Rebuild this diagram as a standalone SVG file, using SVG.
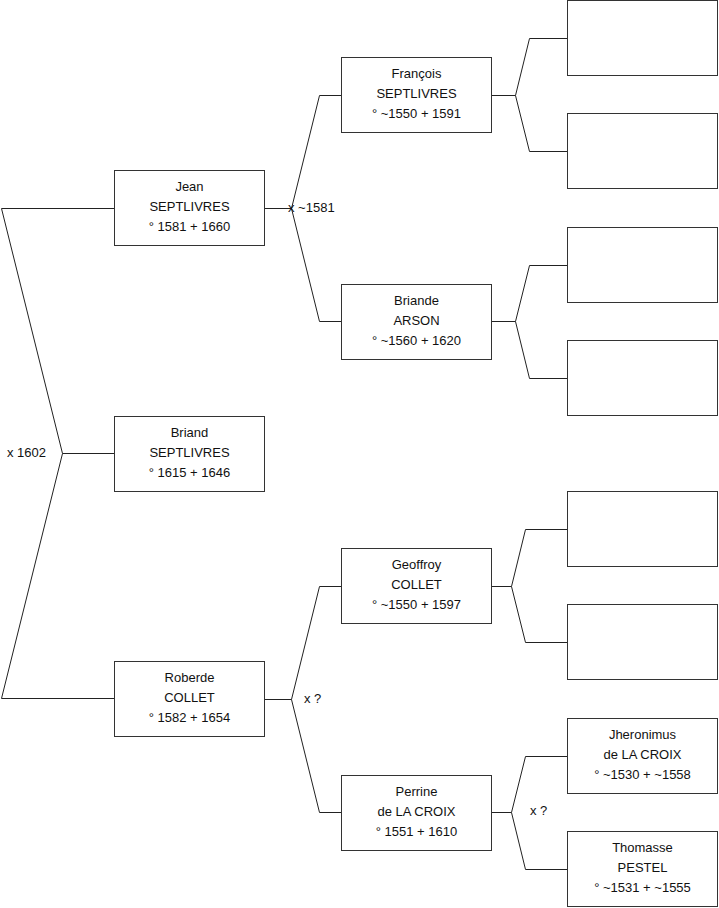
<svg xmlns="http://www.w3.org/2000/svg" width="719" height="908" viewBox="0 0 719 908">
<style>
.box{fill:#fff;stroke:#333;stroke-width:1}
.ln{fill:none;stroke:#222;stroke-width:1}
text{font-family:"Liberation Sans",Arial,sans-serif;font-size:13px;fill:#111}
.c{text-anchor:middle}
</style>
<rect width="719" height="908" fill="#fff"/>
<g id="connectors">
<polyline class="ln" points="114,208.5 1.5,208.5 62.5,453.5 1.5,698.5 114,698.5"/>
<line class="ln" x1="62.5" y1="453.5" x2="114" y2="453.5"/>
<polyline class="ln" points="341,95.5 319.5,95.5 291.5,208.5 319.5,321.5 341,321.5"/>
<line class="ln" x1="265" y1="208.5" x2="291.5" y2="208.5"/>
<polyline class="ln" points="341,586.5 319.5,586.5 291.5,699.5 319.5,812.5 341,812.5"/>
<line class="ln" x1="265" y1="699.5" x2="291.5" y2="699.5"/>
<polyline class="ln" points="567,38.5 529.5,38.5 515.5,95.5 529.5,151.5 567,151.5"/>
<line class="ln" x1="492" y1="95.5" x2="515.5" y2="95.5"/>
<polyline class="ln" points="567,265.5 529.5,265.5 515.5,321.5 529.5,378.5 567,378.5"/>
<line class="ln" x1="492" y1="321.5" x2="515.5" y2="321.5"/>
<polyline class="ln" points="567,529.5 525.5,529.5 511.5,586.5 525.5,642.5 567,642.5"/>
<line class="ln" x1="492" y1="586.5" x2="511.5" y2="586.5"/>
<polyline class="ln" points="567,756.5 525.5,756.5 511.5,812.5 525.5,869.5 567,869.5"/>
<line class="ln" x1="492" y1="812.5" x2="511.5" y2="812.5"/>
<text x="7" y="457">x 1602</text>
<text x="288" y="212">x ~1581</text>
<text x="304" y="703">x ?</text>
<text x="530" y="815">x ?</text>
</g>
<g id="jean"><rect class="box" x="114.5" y="170.5" width="150" height="75"/>
<text class="c" x="189.5" y="191">Jean</text><text class="c" x="189.5" y="211">SEPTLIVRES</text><text class="c" x="189.5" y="231">° 1581 + 1660</text></g>
<g id="briand"><rect class="box" x="114.5" y="416.5" width="150" height="75"/>
<text class="c" x="189.5" y="437">Briand</text><text class="c" x="189.5" y="457">SEPTLIVRES</text><text class="c" x="189.5" y="477">° 1615 + 1646</text></g>
<g id="roberde"><rect class="box" x="114.5" y="661.5" width="150" height="75"/>
<text class="c" x="189.5" y="682">Roberde</text><text class="c" x="189.5" y="702">COLLET</text><text class="c" x="189.5" y="722">° 1582 + 1654</text></g>
<g id="francois"><rect class="box" x="341.5" y="57.5" width="150" height="75"/>
<text class="c" x="416.5" y="78">François</text><text class="c" x="416.5" y="98">SEPTLIVRES</text><text class="c" x="416.5" y="118">° ~1550 + 1591</text></g>
<g id="briande"><rect class="box" x="341.5" y="284.5" width="150" height="75"/>
<text class="c" x="416.5" y="305">Briande</text><text class="c" x="416.5" y="325">ARSON</text><text class="c" x="416.5" y="345">° ~1560 + 1620</text></g>
<g id="geoffroy"><rect class="box" x="341.5" y="548.5" width="150" height="75"/>
<text class="c" x="416.5" y="569">Geoffroy</text><text class="c" x="416.5" y="589">COLLET</text><text class="c" x="416.5" y="609">° ~1550 + 1597</text></g>
<g id="perrine"><rect class="box" x="341.5" y="775.5" width="150" height="75"/>
<text class="c" x="416.5" y="796">Perrine</text><text class="c" x="416.5" y="816">de LA CROIX</text><text class="c" x="416.5" y="836">° 1551 + 1610</text></g>
<g id="g3a"><rect class="box" x="567.5" y="0.5" width="150" height="75"/></g>
<g id="g3b"><rect class="box" x="567.5" y="113.5" width="150" height="75"/></g>
<g id="g3c"><rect class="box" x="567.5" y="227.5" width="150" height="75"/></g>
<g id="g3d"><rect class="box" x="567.5" y="340.5" width="150" height="75"/></g>
<g id="g3e"><rect class="box" x="567.5" y="491.5" width="150" height="75"/></g>
<g id="g3f"><rect class="box" x="567.5" y="604.5" width="150" height="75"/></g>
<g id="jheronimus"><rect class="box" x="567.5" y="718.5" width="150" height="75"/>
<text class="c" x="642.5" y="739">Jheronimus</text><text class="c" x="642.5" y="759">de LA CROIX</text><text class="c" x="642.5" y="779">° ~1530 + ~1558</text></g>
<g id="thomasse"><rect class="box" x="567.5" y="831.5" width="150" height="75"/>
<text class="c" x="642.5" y="852">Thomasse</text><text class="c" x="642.5" y="872">PESTEL</text><text class="c" x="642.5" y="892">° ~1531 + ~1555</text></g>
</svg>
